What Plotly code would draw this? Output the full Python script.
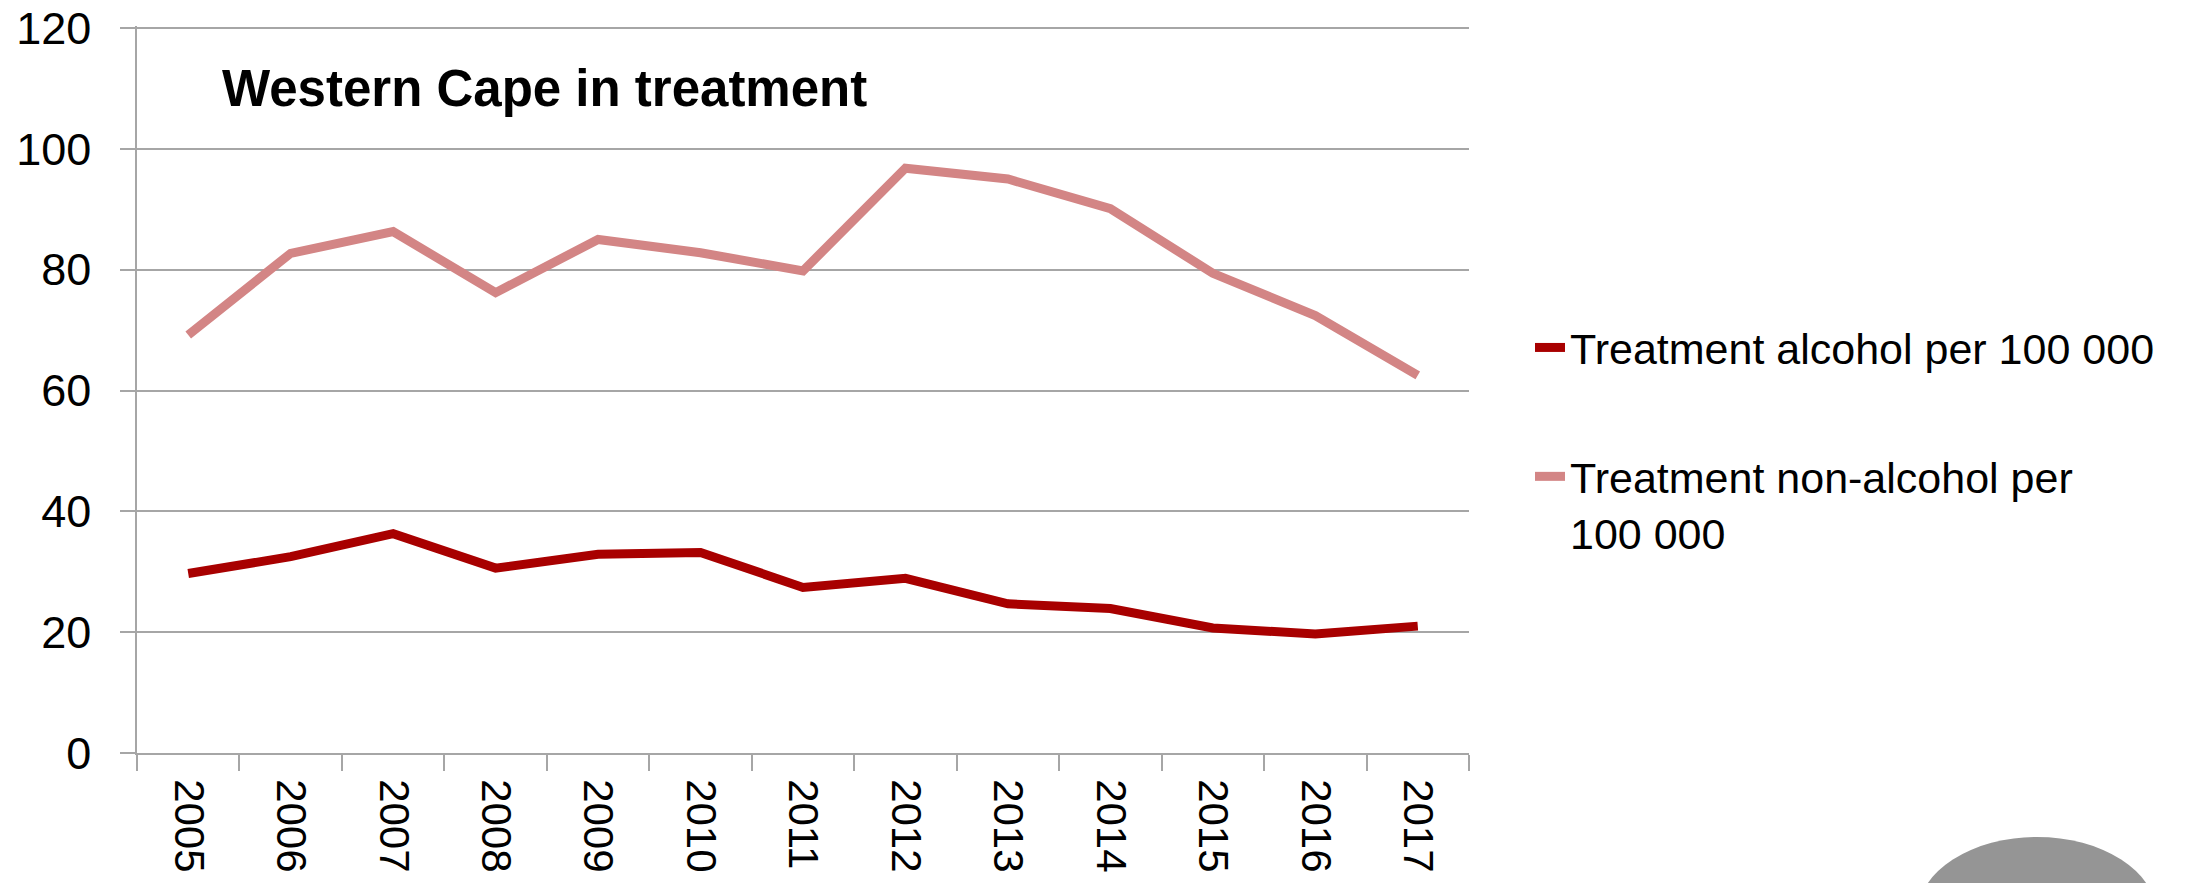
import plotly.graph_objects as go

# Western Cape treatment rates per 100 000 population
years = ["2005", "2006", "2007", "2008", "2009", "2010", "2011",
         "2012", "2013", "2014", "2015", "2016", "2017"]
alcohol = [29.7, 32.5, 36.3, 30.6, 32.9, 33.2, 27.4, 28.9, 24.7, 23.9, 20.7, 19.7, 21.0]
non_alcohol = [69.2, 82.7, 86.3, 76.2, 85.0, 82.8, 79.8, 96.8, 95.0, 90.1, 79.4, 72.4, 62.5]

series_names = ["Treatment alcohol per 100 000", "Treatment non-alcohol per<br>100 000"]
series_colors = ["#A80000", "#D38585"]

W, H = 2195, 883
L, R, T, B = 137, 726, 26, 130
plot_w = W - L - R
plot_h = H - T - B
GRID = "#A6A6A6"

fig = go.Figure()
for name, vals, col, grp in zip(series_names, [alcohol, non_alcohol], series_colors, ["a", "b"]):
    fig.add_trace(go.Scatter(
        x=years, y=vals, name=name, mode="lines",
        line=dict(color=col, width=9, shape="linear"),
        legendgroup=grp,
    ))

fig.update_layout(
    width=W, height=H,
    margin=dict(l=L, r=R, t=T, b=B, pad=0, autoexpand=False),
    paper_bgcolor="white", plot_bgcolor="white",
    font=dict(family="Liberation Sans, Arial, sans-serif", color="black"),
    showlegend=True,
    legend=dict(
        x=(1530 - L) / plot_w, xanchor="left",
        y=(H - B - 313) / plot_h, yanchor="top",
        font=dict(size=43, color="black"),
        traceorder="grouped", tracegroupgap=70,
        valign="top", bgcolor="rgba(0,0,0,0)",
    ),
    annotations=[dict(
        text="<b>Western Cape in treatment</b>",
        xref="paper", yref="paper",
        x=(220 - L) / plot_w, y=(H - B - 88) / plot_h,
        xanchor="left", yanchor="middle", showarrow=False,
        font=dict(size=51, color="black"),
    )],
    shapes=[
        # grey emblem in the lower right corner
        dict(type="circle", xref="paper", yref="paper",
             x0=(1918 - L) / plot_w, x1=(2156 - L) / plot_w,
             y0=(H - B - 837) / plot_h, y1=(H - B - 990) / plot_h,
             fillcolor="#959595", line=dict(width=0), layer="above"),
    ],
)

fig.update_xaxes(
    type="category", categoryorder="array", categoryarray=years,
    range=[-0.5, len(years) - 0.5], automargin=False,
    tickangle=90, tickfont=dict(size=42, family="Liberation Sans, Arial, sans-serif"),
    showline=True, linecolor=GRID, linewidth=1.5,
    ticks="outside", ticklen=16, tickcolor=GRID, tickwidth=1.5,
    tickson="boundaries", ticklabelstandoff=16,
    showgrid=False, zeroline=False,
)
fig.update_yaxes(
    range=[0, 120.33], tickvals=[0, 20, 40, 60, 80, 100, 120], automargin=False,
    tickfont=dict(size=45),
    showline=True, linecolor=GRID, linewidth=1.5,
    ticks="outside", ticklen=15, tickcolor=GRID, tickwidth=1.5,
    showgrid=True, gridcolor=GRID, gridwidth=1.5,
    zeroline=False, ticklabelstandoff=20,
)

fig.write_html("out.html")
